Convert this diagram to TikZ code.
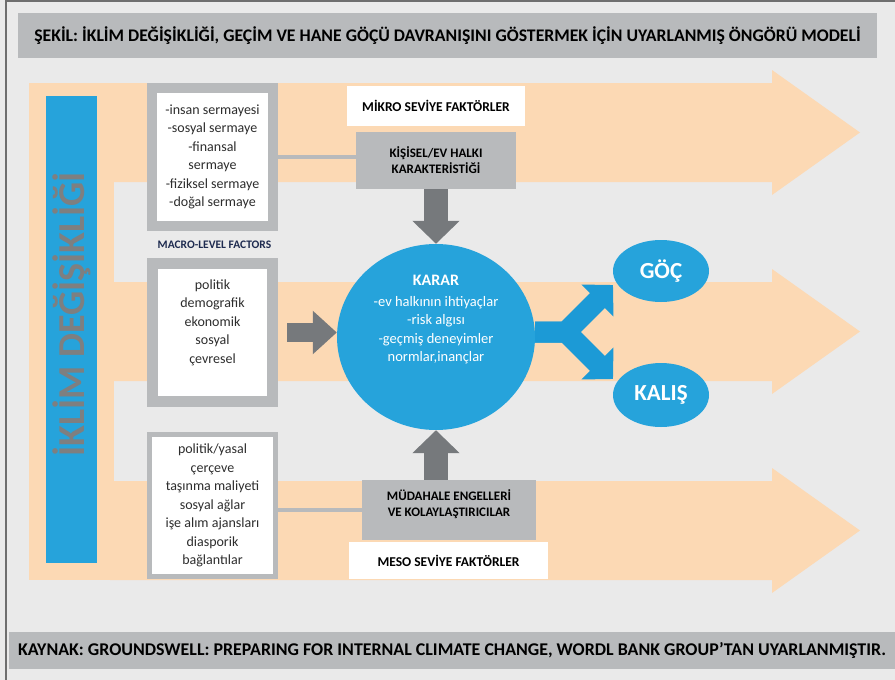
\documentclass[tikz,border=0pt]{standalone}
\usepackage{fontspec}
\setmainfont{Carlito}
\usetikzlibrary{arrows.meta,shapes.geometric}

\definecolor{bgcolor}{RGB}{234, 234, 234}
\definecolor{barcolor}{RGB}{184, 186, 188}
\definecolor{bandcolor}{RGB}{252, 217, 180}
\definecolor{climblue}{RGB}{38, 163, 219}
\definecolor{forkblue}{RGB}{28, 154, 214}
\definecolor{arrowgray}{RGB}{118, 121, 124}
\definecolor{climtext}{RGB}{126, 127, 128}
\definecolor{macronavy}{RGB}{30, 43, 80}
\definecolor{bodytext}{RGB}{45, 45, 45}
\definecolor{framegray}{RGB}{110, 110, 110}
\newcommand{\bandarrow}[1]{
    \pgfmathsetmacro{\bandtop}{#1}
    \pgfmathsetmacro{\bandbot}{#1 + 99}
    \pgfmathsetmacro{\bandmid}{#1 + 49.5}
    \fill[bandcolor] (110, \bandtop) -- (772, \bandtop) -- (772, \bandtop - 13)
    -- (860, \bandmid) -- (772, \bandbot + 13) -- (772, \bandbot) -- (110, \bandbot) -- cycle;
}

\begin{document}
\begin{tikzpicture}[x=1pt, y=-1pt,
        titlebar/.style={fill=barcolor, inner sep=0pt, font=\fontsize{17.7}{22}\selectfont\bfseries},
        factorbox/.style={fill=white, draw=barcolor, inner sep=0pt},
        boxtext/.style={align=center, text=bodytext, font=\fontsize{14}{18.5}\selectfont},
        levelbox/.style={fill=white, inner sep=0pt, font=\fontsize{13.5}{16}\selectfont\bfseries},
        greybox/.style={fill=barcolor, inner sep=0pt, align=center, font=\fontsize{13}{16}\selectfont\bfseries},
        linkline/.style={draw=barcolor, line width=4pt},
        blockarrow/.style={draw=arrowgray, line width=24pt, -{Triangle[length=23pt, width=46pt]}},
        sidearrow/.style={draw=arrowgray, line width=19pt, -{Triangle[length=24pt, width=42pt]}},
        forkarrow/.style={draw=forkblue, line width=21pt, line join=miter, -{Triangle[length=22pt, width=44pt]}},
        outcome/.style={ellipse, fill=climblue, inner sep=0pt, text=white, font=\fontsize{23}{26}\selectfont\bfseries}
    ]
    \fill[bgcolor] (0, 0) rectangle (895, 680);
    \useasboundingbox (0, 0) rectangle (895, 680);
    \draw[framegray, line width=2pt] (6, 680) -- (6, 1) -- (895, 1);

    \node[titlebar, minimum width=859pt, minimum height=45pt] (title) at (447.5, 35.5)
    {ŞEKİL: İKLİM DEĞİŞİKLİĞİ, GEÇİM VE HANE GÖÇÜ DAVRANIŞINI GÖSTERMEK İÇİN UYARLANMIŞ ÖNGÖRÜ MODELİ};
    \node[titlebar, minimum width=886pt, minimum height=37pt, font=\fontsize{17.9}{21}\selectfont\bfseries] (source) at (452, 650.5)
    {KAYNAK: GROUNDSWELL: PREPARING FOR INTERNAL CLIMATE CHANGE, WORDL BANK GROUP'TAN UYARLANMIŞTIR.};

    % three bands and the left spine
    \fill[bandcolor] (29, 83) rectangle (114, 580);
    \bandarrow{83}
    \bandarrow{282}
    \bandarrow{481}

    \node[fill=climblue, rotate=90, minimum width=467pt, minimum height=51pt, inner sep=0pt,
        text=climtext, font=\fontsize{38}{40}\selectfont\bfseries] (climate) at (71.5, 329.5)
    {\hspace*{30pt}İKLİM DEĞİŞİKLİĞİ};

    % factor boxes on the left
    \node[factorbox, line width=10pt, minimum width=121pt, minimum height=138pt, boxtext] (micro) at (212.5, 157)
    {-insan sermayesi\\-sosyal sermaye\\-finansal\\sermaye\\-fiziksel sermaye\\-doğal sermaye};
    \node[text=macronavy, inner sep=0pt, font=\fontsize{11.5}{13}\selectfont\bfseries] (macrolabel) at (214.5, 245)
    {MACRO-LEVEL FACTORS};
    \node[factorbox, line width=11pt, minimum width=120pt, minimum height=138pt] (macro) at (212.5, 332.5) {};
    \node[boxtext] (macrotext) at ([yshift=10pt]macro.center)
    {politik\\demografik\\ekonomik\\sosyal\\çevresel};
    \node[factorbox, line width=5pt, minimum width=126pt, minimum height=142pt, boxtext] (meso) at (212.5, 505.5)
    {politik/yasal\\çerçeve\\taşınma maliyeti\\sosyal ağlar\\işe alım ajansları\\diasporik\\bağlantılar};

    % level labels and grey boxes
    \node[levelbox, minimum width=178pt, minimum height=40pt] (microlabel) at (436, 106) {MİKRO SEVİYE FAKTÖRLER};
    \node[greybox, minimum width=160pt, minimum height=57pt] (kisisel) at (436, 160.5)
    {KİŞİSEL/EV HALKI\\KARAKTERİSTİĞİ};
    \node[greybox, minimum width=174pt, minimum height=60pt] (mudahale) at (449, 510) {};
    \node[greybox] (mudahaletext) at ([yshift=6pt]mudahale.center)
    {MÜDAHALE ENGELLERİ\\VE KOLAYLAŞTIRICILAR};
    \node[levelbox, minimum width=199pt, minimum height=37pt] (mesolabel) at (448.5, 560.5) {MESO SEVİYE FAKTÖRLER};

    % decision
    \node[ellipse, fill=climblue, minimum width=198pt, minimum height=186pt, inner sep=0pt] (karar) at (436, 337) {};
    \node[align=center, text=white, font=\fontsize{14.5}{18.5}\selectfont] (karartext) at ([yshift=17pt]karar.center)
    {{\fontsize{16}{19}\selectfont\bfseries KARAR}\\[2pt]-ev halkının ihtiyaçlar\\-risk algısı\\-geçmiş deneyimler\\normlar,inançlar};

    \node[outcome, minimum width=96pt, minimum height=62pt] (goc) at (661, 271) {GÖÇ};
    \node[outcome, minimum width=96pt, minimum height=64pt] (kalis) at (661, 395) {KALIŞ};

    \draw[linkline] (micro.east) -- (micro.east -| kisisel.west);
    \draw[linkline] (mudahale.west -| meso.east) -- (mudahale.west);
    \draw[blockarrow] (karar.north |- kisisel.south) -- (karar.north);
    \draw[blockarrow] (karar.south |- mudahale.north) -- (karar.south);
    \draw[sidearrow] ([xshift=9pt]macro.east) -- (macro.east -| karar.west);

    \coordinate (fork) at (566, 332);
    \coordinate (gocend) at (613, 285);
    \coordinate (kalisend) at (613, 379);
    \draw[forkarrow] (karar.east |- fork) -- (fork) -- (gocend);
    \draw[forkarrow] (karar.east |- fork) -- (fork) -- (kalisend);
\end{tikzpicture}
\end{document}
